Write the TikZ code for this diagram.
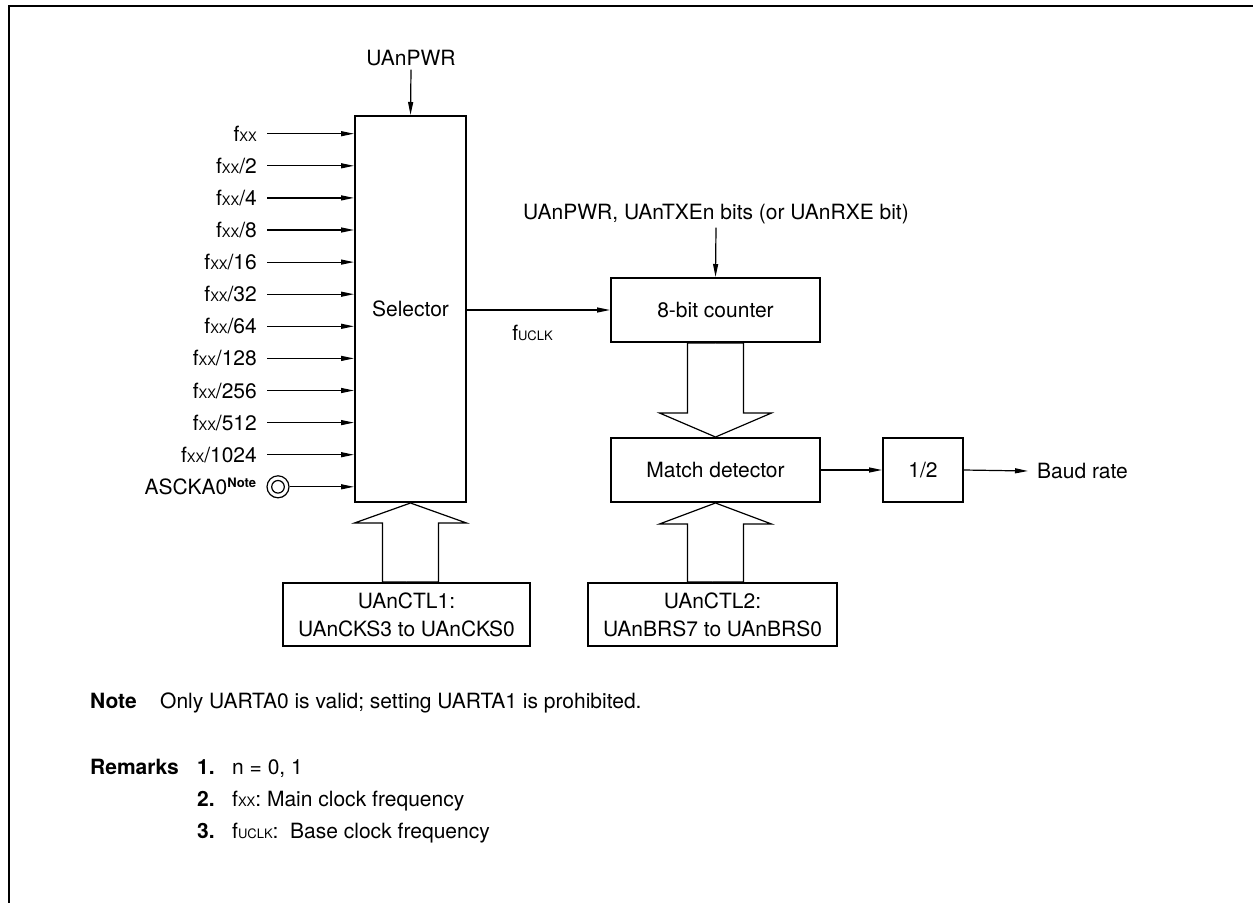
\documentclass[tikz,border=0pt]{standalone}
\usepackage{fontspec}
\setmainfont{TeX Gyre Heros}
\usetikzlibrary{arrows.meta}

\newcommand{\fxx}{f{\fontsize{13}{15}\selectfont XX}}
\newcommand{\fuclk}{f{\fontsize{13}{15}\selectfont UCLK}}
\newcommand{\notesup}{\raisebox{7pt}{\fontsize{13}{15}\selectfont\bfseries Note}}
\newcommand{\busarrow}[3]{%
  \draw[bus] (#1) -- ++(-56,#3) -- ++(28,0) |- (#2);
  \draw[bus] (#1) -- ++(56,#3) -- ++(-28,0) |- (#2);}

\begin{document}
\begin{tikzpicture}[
    x=1pt, y=-1pt,
    every node/.style={font=\fontsize{21}{28}\selectfont},
    blk/.style={draw, line width=2pt, inner sep=0pt, align=center, fill=white},
    sig/.style={line width=1.2pt, -{Triangle[length=13pt,width=5pt]}},
    bus/.style={line width=1.2pt},
    inlbl/.style={anchor=east, inner xsep=10pt, inner ysep=0pt, text height=15pt, text depth=0pt},
    txt/.style={anchor=west, inner sep=0pt, text height=15pt, text depth=0pt},
    toplbl/.style={inner xsep=0pt, inner ysep=3.5pt}
  ]
  \useasboundingbox (0,0) rectangle (1253,903);

  % Frame
  \draw[line width=2.4pt] (1253,6) -- (9,6) -- (9,903);

  % Blocks
  \node[blk, minimum width=111pt, minimum height=386pt] (sel) at (410.5,309) {Selector};
  \node[blk, minimum width=209pt, minimum height=64pt] (cnt) at (715.5,310) {8-bit counter};
  \node[blk, minimum width=209pt, minimum height=64pt] (mat) at (715.5,470) {Match detector};
  \node[blk, minimum width=80pt, minimum height=64pt] (half) at (923,470) {1/2};
  \node[blk, minimum width=247pt, minimum height=63pt] (ctla) at (406.5,614.5) {UAnCTL1:\\UAnCKS3 to UAnCKS0};
  \node[blk, minimum width=249pt, minimum height=63pt] (ctlb) at (712.5,614.5) {UAnCTL2:\\UAnBRS7 to UAnBRS0};

  % Clock inputs
  \foreach \lab [count=\i from 0] in {{}, /2, /4, /8, /16, /32, /64, /128, /256, /512, /1024} {
    \node[inlbl] (in\i) at (267,133.7+32.1*\i) {\fxx\lab};
    \draw[sig] (in\i.east) -- (sel.west |- in\i.east);
  }
  \node[draw, circle, line width=1.2pt, minimum size=22pt, inner sep=0pt] (pin) at (278,486.8) {};
  \node[draw, circle, line width=1.2pt, minimum size=12.6pt, inner sep=0pt] (pinc) at (pin) {};
  \node[inlbl] (ascka) at (pin.west) {ASCKA0\notesup};
  \draw[sig] (pin.east) -- (sel.west |- pin.east);

  % Control inputs
  \node[toplbl] (pwr) at (411,58) {UAnPWR};
  \draw[sig] (pwr.south) -- (sel.north);
  \node[toplbl] (ena) at (716,214) {UAnPWR, UAnTXEn bits (or UAnRXE bit)};
  \draw[sig] (ena.south) -- (cnt.north);

  % Clock path
  \draw[sig] (sel.east |- cnt.west) -- (cnt.west);
  \node[inner sep=0pt, text height=15pt, text depth=0pt] (fu) at (532.5,333) {\fuclk};
  \draw[sig] (mat.east) -- (half.west);
  \node[txt, inner xsep=9pt] (baud) at (1028,471) {Baud rate};
  \draw[sig] (half.east) -- (baud.west);

  % Buses
  \busarrow{sel.south}{ctla.north}{20}
  \busarrow{mat.north}{cnt.south}{-24}
  \busarrow{mat.south}{ctlb.north}{21}

  % Notes
  \node[txt] (notehd) at (90,701) {\bfseries Note};
  \node[txt] (notetx) at (160,701) {Only UARTA0 is valid; setting UARTA1 is prohibited.};
  \node[txt] (remhd) at (90,767) {\bfseries Remarks};
  \node[txt] (rnum1) at (197,767) {\bfseries 1.};
  \node[txt] (rtxt1) at (232,767) {n = 0, 1};
  \node[txt] (rnum2) at (197,799) {\bfseries 2.};
  \node[txt] (rtxt2) at (232,799) {\fxx: Main clock frequency};
  \node[txt] (rnum3) at (197,831) {\bfseries 3.};
  \node[txt] (rtxt3) at (232,831) {\fuclk:\ \ Base clock frequency};
\end{tikzpicture}
\end{document}
